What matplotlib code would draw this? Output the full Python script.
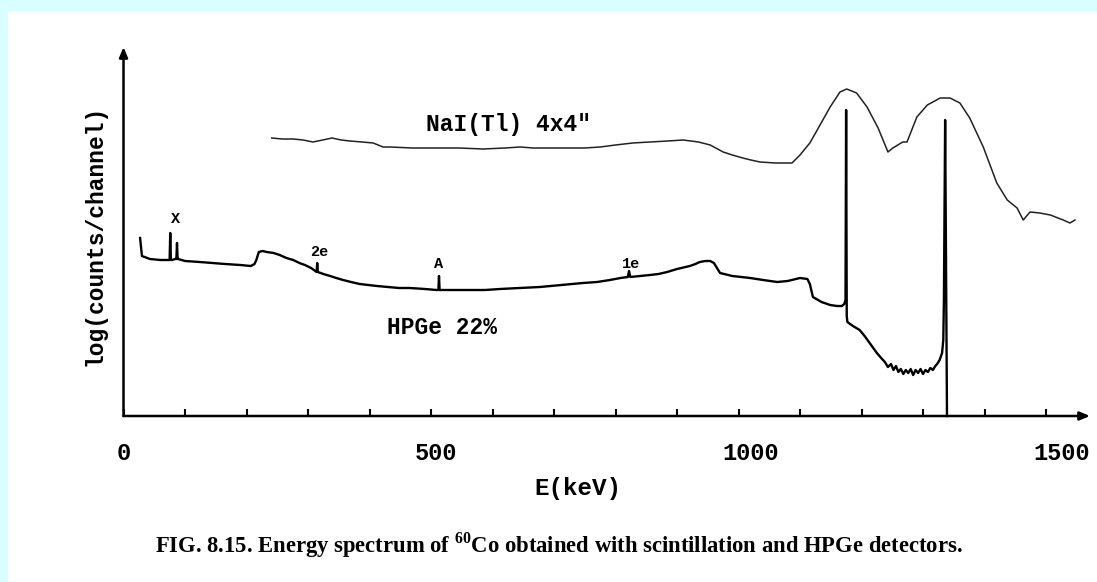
import matplotlib
matplotlib.use("Agg")
import matplotlib.pyplot as plt
from matplotlib.patches import Rectangle

plt.rcParams["mathtext.fontset"] = "custom"
plt.rcParams["mathtext.rm"] = "Liberation Serif"
plt.rcParams["mathtext.bf"] = "Liberation Serif:bold"

# ---- data (energy in keV, log counts in arbitrary units) ----
hpge_energy = [27, 30, 43, 60, 71, 75, 76, 77, 79, 84,
               86, 87, 88, 89, 100, 124, 145, 165, 190, 207,
               213, 216, 220, 226, 233, 244, 254, 265, 276, 286,
               295, 305, 314, 315, 316, 325, 336, 346, 357, 370,
               384, 398, 412, 430, 448, 466, 490, 509, 512, 513,
               514, 517, 540, 563, 588, 612, 645, 677, 712, 747,
               770, 791, 808, 820, 822, 824, 840, 856, 870, 884,
               900, 921, 930, 937, 946, 954, 960, 965, 970, 990,
               1019, 1040, 1063, 1080, 1100, 1112, 1116, 1121, 1135, 1149,
               1160, 1168, 1172, 1174, 1175, 1176, 1177, 1186, 1197, 1205,
               1212, 1218, 1225, 1232, 1238, 1243, 1248, 1252, 1256, 1260,
               1264, 1268, 1272, 1276, 1280, 1284, 1288, 1292, 1296, 1300,
               1304, 1308, 1312, 1316, 1320, 1323, 1327, 1331, 1333, 1334,
               1336, 1339]
hpge_counts = [178, 160, 157, 156, 156, 156, 183, 156, 156, 157,
               157, 173, 157, 157, 155, 154, 153, 152, 151, 150,
               152, 156, 164, 165, 164, 163, 161, 158, 156, 153,
               151, 148, 144, 153, 144, 142, 140, 138, 136, 134,
               132, 131, 130, 129, 128, 128, 127, 126, 126, 140,
               126, 126, 126, 126, 126, 127, 128, 129, 131, 133,
               134, 136, 138, 139, 145, 139, 140, 141, 142, 144,
               147, 150, 152, 154, 155, 155, 153, 148, 143, 140,
               138, 136, 134, 135, 138, 137, 132, 119, 114, 111,
               110, 110, 112, 116, 306, 100, 94, 90, 86, 80,
               74, 69, 63, 58, 54, 49, 52, 46, 50, 44,
               47, 42, 46, 43, 47, 41, 46, 43, 47, 42,
               46, 44, 48, 46, 50, 52, 56, 63, 76, 116,
               296, 0]

nai_energy = [241, 258, 276, 292, 308, 324, 339, 354, 368, 388,
              406, 422, 433, 470, 503, 545, 585, 620, 645, 666,
              690, 721, 750, 775, 800, 828, 856, 885, 910, 935,
              954, 975, 990, 1007, 1020, 1035, 1060, 1087, 1100, 1116,
              1128, 1149, 1165, 1176, 1192, 1209, 1227, 1243, 1251, 1267,
              1274, 1290, 1307, 1328, 1344, 1360, 1376, 1398, 1420, 1437,
              1453, 1463, 1474, 1490, 1507, 1528, 1539, 1547]
nai_counts = [278, 277, 277, 276, 274, 276, 278, 276, 275, 274,
              273, 269, 269, 268, 268, 268, 267, 268, 269, 268,
              268, 268, 268, 269, 271, 273, 274, 275, 276, 274,
              271, 264, 261, 258, 256, 254, 253, 253, 261, 273,
              286, 309, 324, 327, 323, 309, 288, 264, 268, 274,
              274, 299, 311, 318, 318, 313, 298, 269, 233, 216,
              208, 196, 204, 203, 201, 196, 193, 196]

xtick_values = list(range(0, 1600, 100))
xtick_labels = ["0", "500", "1000", "1500"]
xtick_label_pos = [0, 508, 1019, 1526]

annotations = ["X", "2e", "A", "1e"]
annotation_energy = [85, 318, 513, 826]
annotation_counts = [190, 157, 145, 145]

# ---- figure ----
W, H = 1097, 582
fig = plt.figure(figsize=(W / 100, H / 100), dpi=100)
fig.patch.set_facecolor("#D8FFFF")
fig.patches.append(Rectangle((8 / W, 0), 1, (H - 11) / H, transform=fig.transFigure,
                             facecolor="white", edgecolor="none", zorder=-10))

ax_left, ax_right, ax_bottom, ax_top = 123.5, 1090, 416, 47
ax = fig.add_axes([ax_left / W, (H - ax_bottom) / H, (ax_right - ax_left) / W, (ax_bottom - ax_top) / H])
ax.set_zorder(5)
ax.set_facecolor("none")
ax.set_xlim(0, (ax_right - ax_left) / 0.615)
ax.set_ylim(0, ax_bottom - ax_top)
for s in ax.spines.values():
    s.set_visible(False)

# axes with arrows
arrow_kw = dict(arrowstyle="-|>,head_length=0.6,head_width=0.25", lw=1.8, color="black",
                shrinkA=0, shrinkB=0)
ax.annotate("", xy=(1, 0), xytext=(0, 0), xycoords="axes fraction", arrowprops=arrow_kw)
ax.annotate("", xy=(0, 1), xytext=(0, 0), xycoords="axes fraction", arrowprops=arrow_kw)

ax.set_xticks(xtick_values)
ax.set_xticklabels([])
ax.tick_params(axis="x", direction="in", length=5, width=1.5, color="black")
ax.set_yticks([])

mono = "Liberation Mono"
for lab, pos in zip(xtick_labels, xtick_label_pos):
    ax.text(pos, -38, lab, ha="center", va="center", fontsize=17, family=mono, fontweight="bold",
            clip_on=False)

ax.plot(hpge_energy, hpge_counts, color="black", lw=1.7, solid_joinstyle="round", clip_on=False)
ax.plot(nai_energy, nai_counts, color="#222222", lw=1.1, solid_joinstyle="round", clip_on=False)

for t, e, c in zip(annotations, annotation_energy, annotation_counts):
    ax.text(e, c, t, ha="center", va="bottom", fontsize=11, family=mono, fontweight="bold")

ax.text(626, 291, "NaI(Tl) 4x4\"", ha="center", va="center", fontsize=16.5, family=mono,
        fontweight="bold")
ax.text(518, 89, "HPGe 22%", ha="center", va="center", fontsize=16.5, family=mono, fontweight="bold")

fig.text(95 / W, 1 - 235 / H, "log(counts/channel)", rotation=90, ha="center", va="center",
         fontsize=16.5, family=mono, fontweight="bold")
fig.text(578 / W, 1 - 488 / H, "E(keV)", ha="center", va="center", fontsize=17.5, family=mono,
         fontweight="bold")
fig.text(559 / W, 1 - 545 / H,
         r"FIG. 8.15. Energy spectrum of $^{\mathbf{60}}$Co obtained with scintillation and HPGe detectors.",
         ha="center", va="center", fontsize=16.3, family="Liberation Serif", fontweight="bold")

fig.savefig("out.png", dpi=100, facecolor=fig.get_facecolor())
